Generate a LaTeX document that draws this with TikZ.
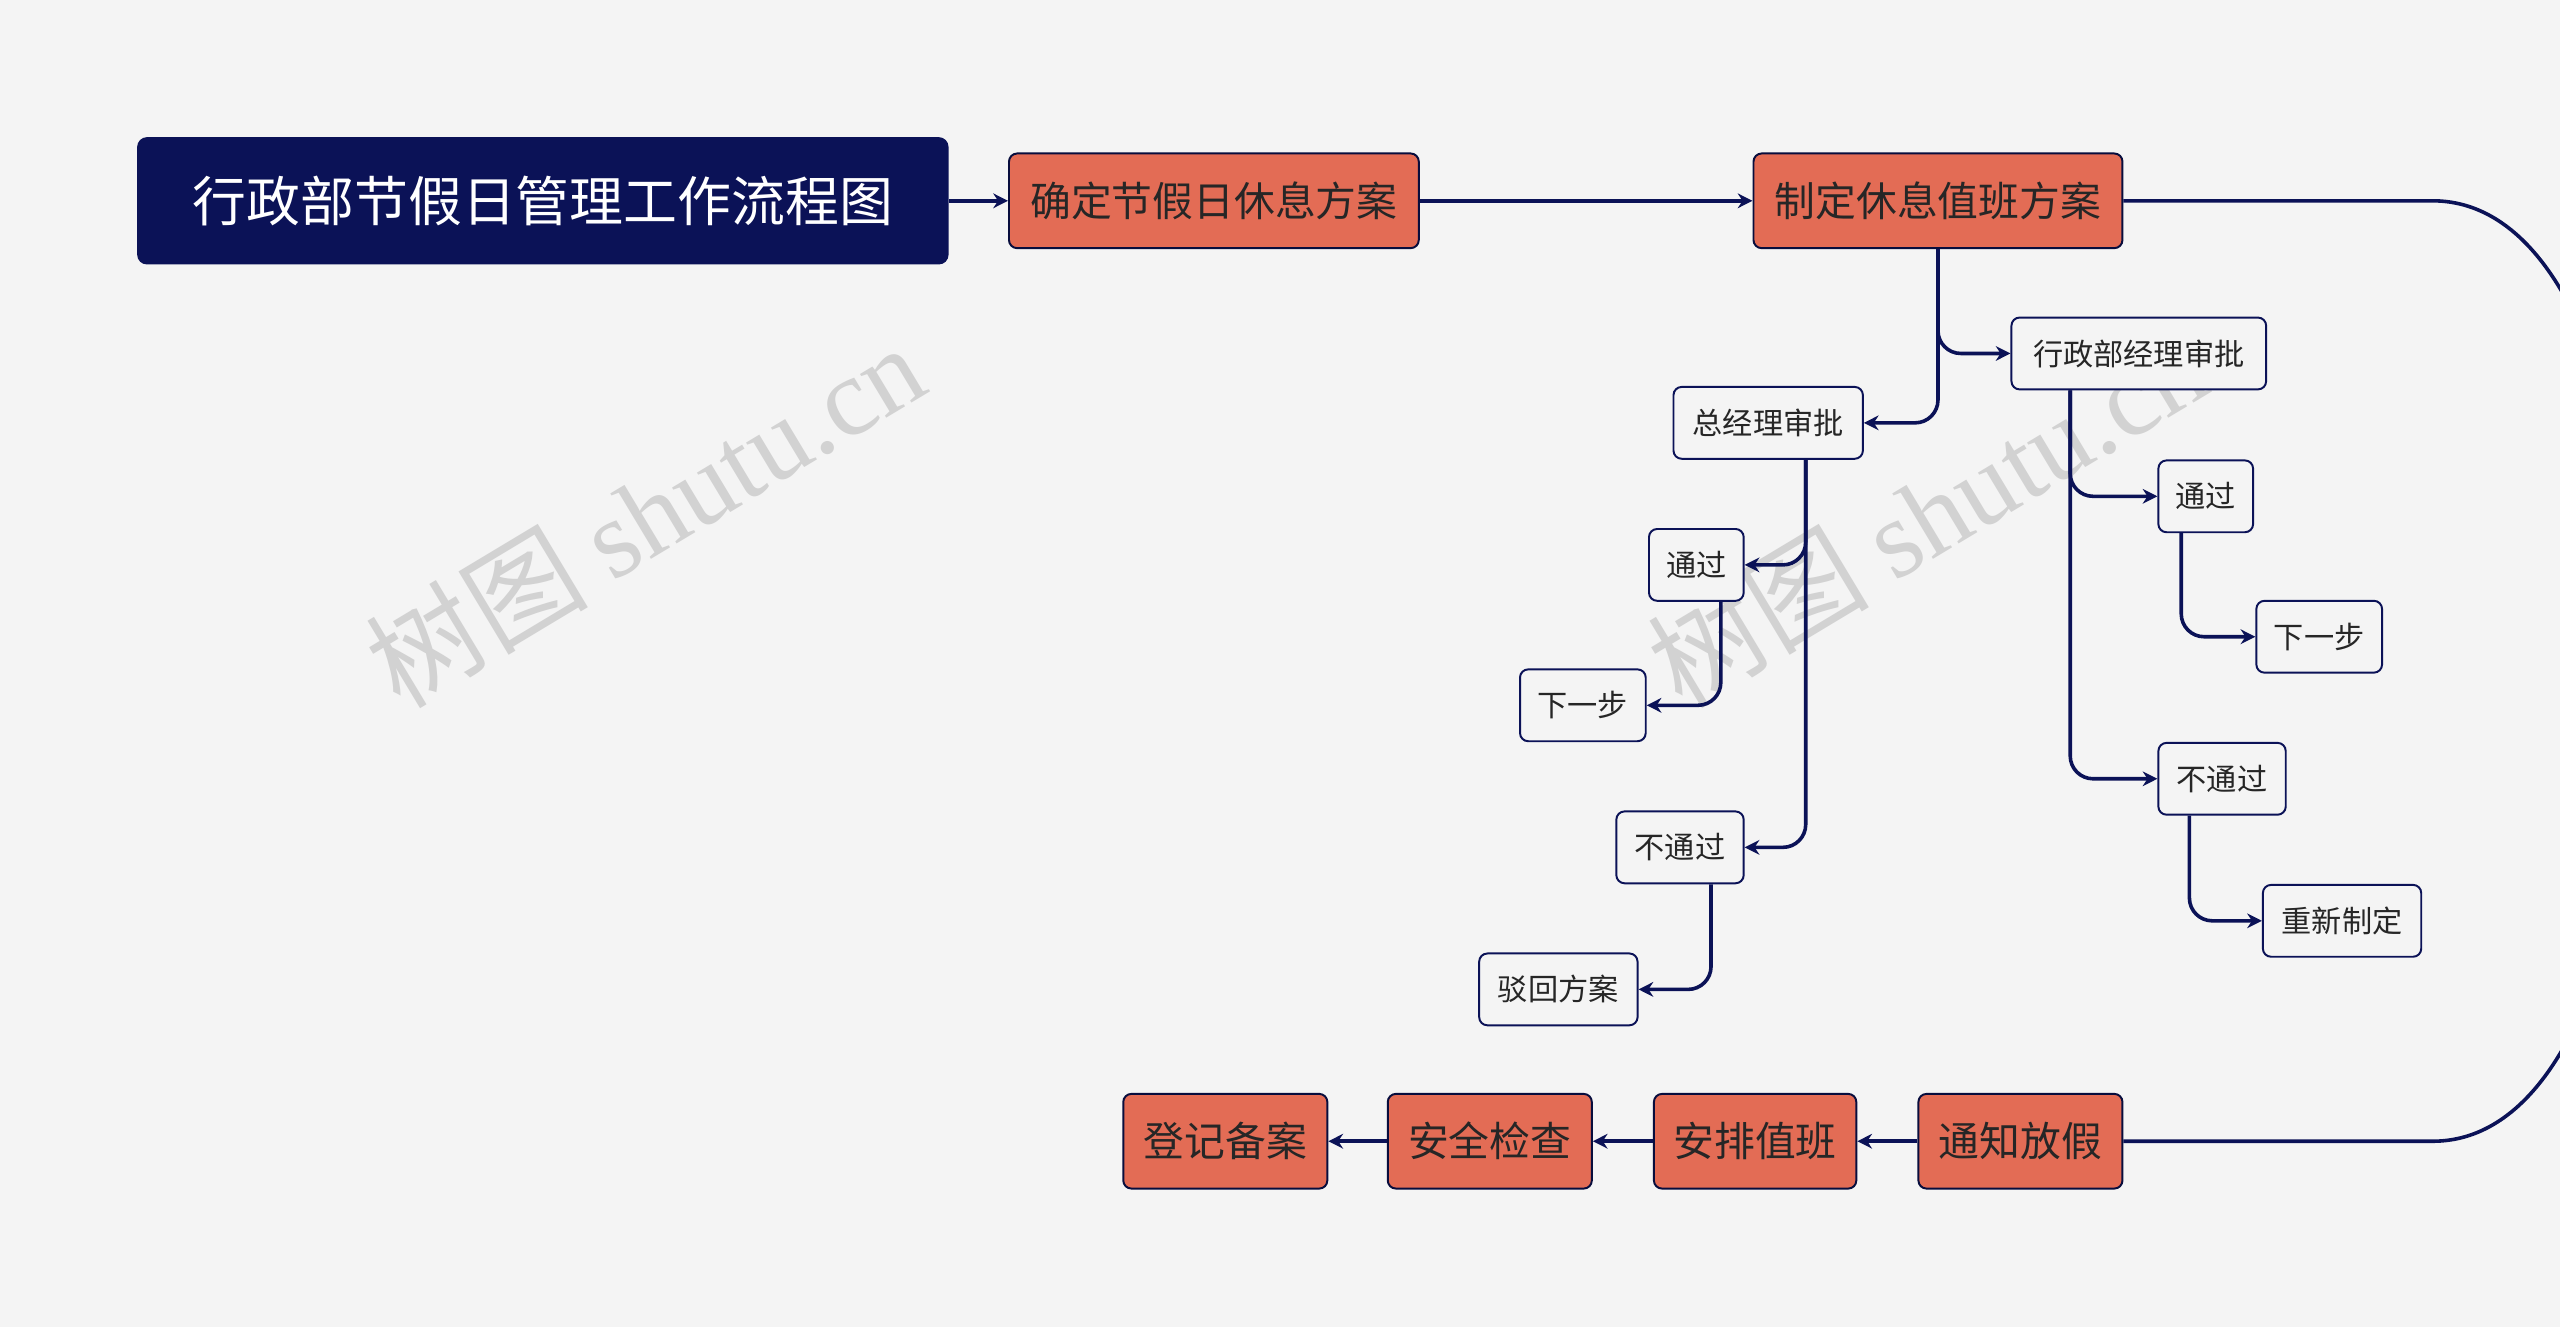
\documentclass[tikz,border=0pt]{standalone}
\usepackage{fontspec}
\setmainfont{Noto Sans CJK SC}
\usetikzlibrary{arrows.meta}
\definecolor{navy}{HTML}{0B1257}
\definecolor{org}{HTML}{E36C55}
\definecolor{bg}{HTML}{F4F4F4}
\tikzset{
 main/.style={draw=navy!70!black,fill=org,rounded corners=5,line width=1.2,text=black!85,font=\fontsize{25}{29}\selectfont,inner sep=0},
 sub/.style={draw=navy,fill=bg,rounded corners=5,line width=1.2,text=black!85,font=\fontsize{18.5}{22}\selectfont,inner sep=0,minimum height=44},
 edge/.style={draw=navy,line width=2.2,rounded corners=14,-{Stealth[length=9,width=9]}},
 wm/.style={text=gray!35,rotate=31,font=\fontsize{68}{70}\selectfont}
}
\begin{document}
\begin{tikzpicture}[x=1pt,y=-1pt]
\fill[bg] (0,0) rectangle (1568,813);
\useasboundingbox (0,0) rectangle (1568,813);
\node[wm] at (395,315) {树图 {\fontspec{Liberation Serif}shutu.cn}};
\node[wm] at (1180,315) {树图 {\fontspec{Liberation Serif}shutu.cn}};
\node[fill=navy,rounded corners=6,text=white,font=\fontsize{33}{38}\selectfont,minimum width=497,minimum height=78,inner sep=0] (t) at (332.5,123) {行政部节假日管理工作流程图};
\node[main,minimum width=251,minimum height=58] (a) at (743.5,123) {确定节假日休息方案};
\node[main,minimum width=226,minimum height=58] (b) at (1187,123) {制定休息值班方案};
\node[sub,minimum width=156] (c) at (1310,216.5) {行政部经理审批};
\node[sub,minimum width=116] (d) at (1083,259) {总经理审批};
\node[sub,minimum width=58] (e) at (1039,346) {通过};
\node[sub,minimum width=77] (f) at (969.5,432) {下一步};
\node[sub,minimum width=78] (g) at (1029,519) {不通过};
\node[sub,minimum width=97] (h) at (954.5,606) {驳回方案};
\node[sub,minimum width=58] (i) at (1351,304) {通过};
\node[sub,minimum width=77] (j) at (1420.5,390) {下一步};
\node[sub,minimum width=78] (k) at (1361,477) {不通过};
\node[sub,minimum width=97] (l) at (1434.5,564) {重新制定};
\node[main,minimum width=125,minimum height=58] (m) at (1237.5,699) {通知放假};
\node[main,minimum width=124,minimum height=58] (n) at (1075,699) {安排值班};
\node[main,minimum width=125,minimum height=58] (o) at (912.5,699) {安全检查};
\node[main,minimum width=125,minimum height=58] (p) at (750.5,699) {登记备案};
\draw[edge] (t) -- (a);
\draw[edge] (a) -- (b);
\draw[navy,line width=2.2] (b.east) -- (1490,123) .. controls (1660,123) and (1660,699) .. (1490,699) -- (m.east);
\draw[edge] (m) -- (n);
\draw[edge] (n) -- (o);
\draw[edge] (o) -- (p);
\draw[edge] (b.south) |- (c.west);
\draw[edge] (b.south) |- (d.east);
\draw[edge] ([xshift=23]d.south) |- (e.east);
\draw[edge] ([xshift=23]d.south) |- (g.east);
\draw[edge] ([xshift=15]e.south) |- (f.east);
\draw[edge] ([xshift=19]g.south) |- (h.east);
\draw[edge] ([xshift=-42]c.south) |- (i.west);
\draw[edge] ([xshift=-42]c.south) |- (k.west);
\draw[edge] ([xshift=-15]i.south) |- (j.west);
\draw[edge] ([xshift=-20]k.south) |- (l.west);
\end{tikzpicture}
\end{document}
